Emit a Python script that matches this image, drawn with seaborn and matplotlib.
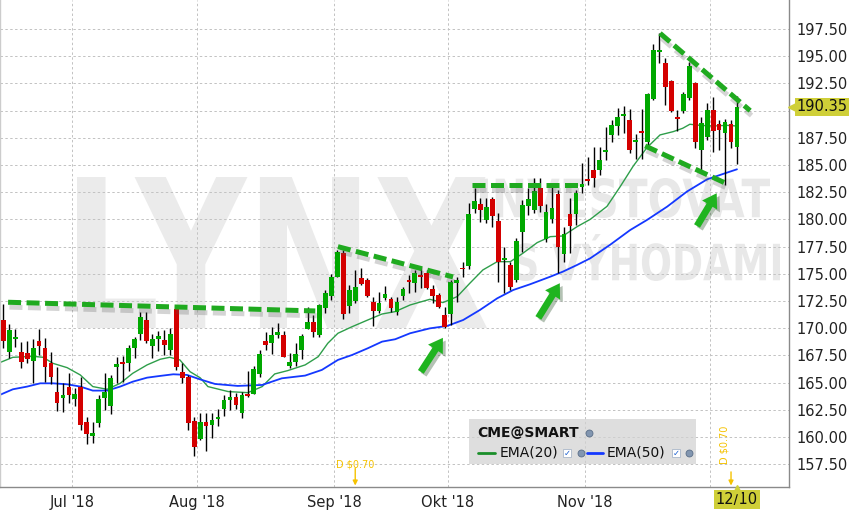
import numpy as np
import pandas as pd
import matplotlib
matplotlib.use("Agg")
import matplotlib.pyplot as plt
import seaborn as sns
import matplotlib.patheffects as pe
from matplotlib.textpath import TextPath
from matplotlib.patches import PathPatch, FancyArrowPatch, Rectangle, ArrowStyle
from matplotlib.font_manager import FontProperties
from matplotlib.transforms import Affine2D, blended_transform_factory
from matplotlib.lines import Line2D

# CME daily candles, 14 Jun 2018 .. 10 Dec 2018
opens = [170.76, 167.85, 169.02, 167.82, 167.73, 167.03, 168.86, 168.22, 166.81, 164.15,
         163.63, 164.60, 163.50, 164.60, 161.39, 160.13, 161.30, 163.60, 162.89, 166.44,
         166.90, 166.84, 168.22, 169.48, 170.79, 168.37, 169.05, 168.93, 168.01, 171.74,
         166.01, 165.55, 161.48, 159.83, 161.42, 161.11, 161.66, 162.58, 163.44, 163.69,
         162.25, 163.99, 163.99, 165.80, 168.83, 168.65, 169.35, 169.38, 166.57, 166.90,
         168.01, 169.93, 170.58, 169.35, 171.90, 173.00, 174.74, 176.95, 172.05, 172.51,
         174.62, 174.44, 172.42, 171.62, 172.82, 172.69, 171.47, 172.97, 174.41, 174.19,
         174.90, 175.05, 173.61, 173.06, 171.22, 171.34, 174.19, 175.57, 175.73, 180.98,
         181.42, 179.95, 181.88, 179.89, 176.31, 175.85, 174.47, 178.88, 181.27, 180.87,
         182.89, 178.21, 180.04, 182.37, 176.86, 180.51, 180.54, 183.02, 183.72, 184.55,
         184.58, 186.24, 187.80, 188.62, 189.54, 189.14, 187.15, 188.10, 187.15, 191.11,
         195.43, 194.35, 192.73, 189.39, 190.00, 191.17, 192.51, 186.39, 187.61, 190.06,
         188.75, 187.98, 188.78, 186.69]
highs = [172.23, 170.40, 169.91, 168.71, 168.83, 168.99, 169.91, 169.08, 167.85, 166.44,
         164.94, 165.86, 164.48, 165.55, 161.88, 161.42, 163.87, 165.86, 165.71, 167.39,
         167.45, 168.47, 169.23, 171.47, 171.47, 169.45, 169.75, 169.84, 169.99, 171.84,
         166.84, 165.71, 161.88, 162.18, 162.25, 162.18, 162.55, 163.87, 164.33, 164.02,
         164.18, 166.08, 166.53, 168.01, 169.63, 170.15, 170.46, 169.75, 167.70, 168.62,
         169.48, 171.93, 171.22, 172.23, 173.52, 174.99, 177.20, 177.20, 173.98, 175.36,
         175.51, 174.59, 172.91, 173.37, 173.89, 172.91, 172.91, 173.83, 174.90, 175.36,
         175.66, 175.36, 173.98, 173.21, 171.99, 174.44, 174.74, 176.12, 181.49, 182.86,
         181.95, 181.95, 182.10, 180.57, 177.50, 176.12, 178.27, 181.79, 182.86, 183.78,
         183.78, 181.43, 183.32, 182.71, 179.34, 181.95, 182.71, 185.16, 185.77, 186.69,
         186.69, 188.47, 189.14, 190.22, 190.43, 190.12, 187.86, 190.12, 191.66, 196.13,
         197.11, 194.81, 192.82, 190.06, 191.75, 194.51, 192.67, 189.45, 190.68, 191.29,
         189.14, 189.21, 189.14, 191.35]
lows = [168.16, 167.24, 168.31, 166.32, 166.84, 165.00, 167.55, 165.09, 164.88, 162.43,
        162.34, 163.10, 162.86, 160.65, 159.34, 159.43, 160.96, 162.49, 162.09, 164.94,
        165.09, 166.07, 167.24, 168.93, 168.62, 167.24, 167.95, 167.55, 167.55, 166.17,
        164.94, 160.65, 158.29, 159.73, 158.75, 159.95, 161.05, 161.97, 162.49, 162.58,
        161.73, 163.72, 163.93, 165.55, 168.01, 167.61, 169.08, 167.33, 166.32, 166.57,
        167.18, 169.93, 169.23, 169.23, 171.41, 172.60, 174.68, 170.82, 171.38, 172.30,
        173.98, 172.91, 170.24, 171.38, 172.60, 171.53, 171.22, 172.60, 173.27, 173.37,
        173.67, 173.58, 172.30, 171.83, 169.99, 170.30, 172.45, 174.74, 175.42, 180.57,
        179.80, 179.65, 179.34, 174.29, 173.21, 173.52, 174.29, 177.04, 180.41, 180.57,
        180.72, 177.96, 179.65, 175.11, 176.12, 176.89, 179.49, 182.47, 183.17, 182.96,
        184.09, 185.47, 187.09, 187.77, 187.92, 186.14, 185.53, 185.53, 186.69, 190.98,
        194.35, 190.52, 189.91, 188.17, 189.82, 190.98, 186.54, 184.49, 187.31, 186.24,
        186.39, 183.17, 186.54, 185.10]
closes = [168.86, 169.84, 169.20, 166.93, 167.18, 168.22, 168.41, 166.47, 165.56, 163.16,
          163.90, 163.87, 163.99, 161.14, 160.32, 160.41, 163.50, 164.15, 165.43, 166.72,
          166.72, 168.22, 169.02, 171.04, 168.83, 169.05, 169.29, 168.47, 169.48, 166.47,
          165.46, 161.27, 159.12, 161.42, 161.05, 161.60, 161.84, 163.41, 163.65, 162.98,
          163.84, 163.81, 166.26, 167.64, 168.47, 169.38, 169.66, 167.39, 166.90, 167.64,
          169.32, 170.58, 169.63, 172.11, 173.24, 174.68, 177.01, 171.31, 173.52, 173.77,
          174.10, 172.97, 171.62, 172.30, 173.15, 171.90, 172.42, 173.61, 174.26, 175.05,
          174.75, 173.67, 173.00, 171.93, 170.15, 174.23, 174.44, 175.42, 180.51, 181.70,
          180.87, 181.15, 180.32, 176.09, 176.49, 173.83, 178.05, 181.33, 181.88, 182.62,
          181.27, 180.72, 181.06, 177.50, 178.67, 179.43, 182.43, 183.29, 183.54, 183.83,
          185.47, 186.39, 188.65, 189.39, 189.66, 186.42, 187.31, 187.98, 191.54, 195.58,
          195.58, 192.21, 190.00, 189.24, 191.54, 194.11, 187.15, 188.84, 190.06, 188.17,
          188.23, 188.99, 187.15, 190.35]

# moving averages as drawn on the chart (bar index, price)
ema20_x = [-0.6, 1.6, 5.0, 6.7, 8.3, 10.7, 12.9, 15.0, 17.4, 19.6, 21.7, 24.1, 26.3, 27.9,
           29.6, 31.3, 33.0, 34.3, 37.7, 41.0, 43.4, 45.5, 47.7, 50.6, 52.8, 54.4, 56.1,
           58.5, 61.1, 63.5, 65.7, 68.2, 71.5, 73.7, 76.1, 78.2, 80.4, 82.8, 85.0, 87.1,
           89.5, 91.7, 93.8, 96.2, 98.4, 101.2, 103.4, 105.6, 107.9, 110.1, 112.3, 113.9,
           115.1, 116.8, 119.0, 121.3, 123.0]
ema20_y = [166.84, 167.33, 167.42, 167.33, 166.78, 166.38, 165.71, 164.64, 164.39, 164.94,
           165.86, 166.63, 167.15, 167.33, 167.09, 166.01, 165.45, 164.64, 164.18, 164.08,
           164.64, 165.80, 166.11, 166.63, 167.39, 168.62, 169.54, 170.15, 170.76, 171.31,
           171.53, 172.14, 172.66, 172.36, 172.91, 174.13, 175.36, 176.12, 176.12, 176.89,
           177.87, 178.42, 178.48, 179.34, 180.01, 181.20, 183.00, 184.90, 186.60, 187.77,
           188.07, 188.38, 188.75, 188.65, 188.59, 188.65, 188.59]
ema50_x = [-0.6, 1.6, 4.0, 6.2, 8.3, 10.7, 12.9, 15.0, 17.4, 19.6, 21.7, 24.1, 26.3, 28.5,
           30.8, 33.0, 35.5, 39.3, 43.4, 46.7, 50.6, 53.4, 56.1, 58.5, 61.1, 63.5, 65.7,
           68.2, 71.5, 74.4, 77.1, 79.9, 82.8, 85.5, 88.3, 91.7, 93.8, 96.2, 98.4, 101.7,
           105.1, 107.9, 111.3, 114.6, 118.0, 121.3, 123.0]
ema50_y = [163.87, 164.39, 164.64, 164.94, 164.94, 164.85, 164.64, 164.27, 164.27, 164.64,
           165.09, 165.46, 165.62, 165.77, 165.71, 165.30, 164.88, 164.70, 164.79, 165.40,
           165.65, 166.17, 167.09, 167.55, 168.16, 168.77, 168.99, 169.54, 169.99, 170.21,
           170.76, 171.68, 172.75, 173.52, 174.04, 174.74, 175.20, 175.82, 176.43, 177.66,
           179.03, 179.95, 181.18, 182.56, 183.69, 184.30, 184.61]

# hand drawn annotations (bar index, price)
trend_lines = [((0.8, 172.39), (52.3, 171.59)),
               ((56.1, 177.50), (75.4, 174.72)),
               ((78.5, 183.13), (97.2, 183.13)),
               ((110.1, 197.11), (125.2, 190.00)),
               ((107.6, 186.76), (121.1, 183.33))]
arrows = [((70.0, 165.99), (73.7, 169.12)),
          ((89.7, 170.95), (93.3, 174.14)),
          ((116.3, 179.40), (119.6, 182.41))]

month_ticks = [11.5, 32.5, 55.5, 74.5, 97.5, 118.5]
month_labels = ["Jul '18", "Aug '18", "Sep '18", "Okt '18", "Nov '18", ""]
price_ticks = [157.5, 160.0, 162.5, 165.0, 167.5, 170.0, 172.5, 175.0, 177.5, 180.0,
               182.5, 185.0, 187.5, 190.0, 192.5, 195.0, 197.5]
dividend_bars = [59, 122]
last_price = 190.35

sns.set_theme(style="white")
plt.rcParams["font.family"] = ["DejaVu Sans"]

W, H = 856, 513
fig = plt.figure(figsize=(W / 100, H / 100), dpi=100)
ax = fig.add_axes([0, 26 / H, 789 / W, 487 / H])


def P(x, y):
    return (x / W, 1 - y / H)


# watermark (stretched text paths)
def watermark(text, x0, y0, x1, y1, color):
    tp = TextPath((0, 0), text, size=100, prop=FontProperties(family="DejaVu Sans", weight="bold"))
    bb = tp.get_extents()
    fx0, fy1 = P(x0, y0)
    fx1, fy0 = P(x1, y1)
    tr = (Affine2D().translate(-bb.x0, -bb.y0)
          .scale((fx1 - fx0) / bb.width, (fy1 - fy0) / bb.height)
          .translate(fx0, fy0))
    patch = PathPatch(tr.transform_path(tp), transform=fig.transFigure, color=color,
                      lw=0, zorder=0.5)
    ax.add_patch(patch)


watermark("LYNX", 77, 177, 487, 328, "#ebebeb")
watermark("INVESTOVAT", 480, 178, 770, 218, "#e8e8e8")
watermark("S VÝHODAMI", 515, 234, 780, 281, "#e8e8e8")

# candles
df = pd.DataFrame({"open": opens, "high": highs, "low": lows, "close": closes})
df["i"] = np.arange(len(df))
up = df["close"] >= df["open"]
colors = np.where(up, "#00a800", "#d40000")
ax.vlines(df["i"], df["low"], df["high"], color="black", lw=1.0, zorder=3)
body = (df["close"] - df["open"]).abs().clip(lower=0.12)
ax.bar(df["i"], body, bottom=df[["open", "close"]].min(axis=1), width=0.8,
       color=colors, linewidth=0, zorder=4)

# EMAs
sns.lineplot(x=ema20_x, y=ema20_y, ax=ax, color="#2e9e4a", lw=1.0, sort=False,
             estimator=None, zorder=2)
sns.lineplot(x=ema50_x, y=ema50_y, ax=ax, color="#1438ff", lw=1.3, sort=False,
             estimator=None, zorder=2)

# trend lines and arrows
shadow = [pe.SimpleLineShadow(offset=(1, -3.5), shadow_color="#555555", alpha=0.25),
          pe.Normal()]
for (x0, y0), (x1, y1) in trend_lines:
    ax.plot([x0, x1], [y0, y1], color="#1faa1f", lw=3.6, linestyle=(0, (2.6, 1.1)),
            solid_capstyle="butt", dash_capstyle="butt", zorder=6, path_effects=shadow)
for tail, tip in arrows:
    a = FancyArrowPatch(tail, tip, arrowstyle=ArrowStyle.Simple(head_length=0.9, head_width=1.15,
                                                                 tail_width=0.45),
                        mutation_scale=11, color="#1fb41f", lw=0, shrinkA=0, shrinkB=0,
                        zorder=6,
                        path_effects=[pe.SimplePatchShadow(offset=(2, -2), alpha=0.3),
                                      pe.Normal()])
    ax.add_patch(a)

# axes styling
ax.set_xlim(-0.553, 131.72)
ax.set_ylim(155.41, 200.17)
ax.set_xticks(month_ticks)
ax.set_xticklabels(month_labels)
ax.set_yticks(price_ticks)
ax.set_yticklabels(["" if abs(t - 190.0) < 1e-6 else f"{t:.2f}" for t in price_ticks])
ax.yaxis.tick_right()
ax.tick_params(axis="y", length=0, pad=5, labelsize=10.5, labelcolor="#222222")
ax.tick_params(axis="x", length=0, pad=5.5, labelsize=10.5, labelcolor="#222222")
ax.grid(True, color="#c2c2c2", linestyle=(0, (2.5, 2.5)), lw=0.7)
ax.set_axisbelow(True)
ax.set_facecolor("white")
ax.spines["top"].set_visible(False)
ax.spines["left"].set_color("#cccccc")
ax.spines["right"].set_color("#8a8a8a")
ax.spines["bottom"].set_color("#8a8a8a")
for s in ["left", "right", "bottom"]:
    ax.spines[s].set_linewidth(1.0)
ax.set_xlabel("")
ax.set_ylabel("")

# last price tag
yb = blended_transform_factory(ax.transAxes, ax.transData)
ax.text(1.0095, last_price, f"{last_price:.2f}", transform=yb, ha="left", va="center",
        fontsize=10.5, color="#111111", clip_on=False, zorder=7,
        bbox=dict(boxstyle="square,pad=0.12", facecolor="#cfcf38", edgecolor="none"))
ax.plot([1.0035], [last_price], marker="<", ms=6, color="#cfcf38", transform=yb,
        clip_on=False, zorder=7)

# current date tag
xb = blended_transform_factory(ax.transData, ax.transAxes)
ax.text(len(closes) - 1, -0.026, "12/10", transform=xb, ha="center", va="center",
        fontsize=10.5, color="#111111", clip_on=False, zorder=7,
        bbox=dict(boxstyle="square,pad=0.12", facecolor="#cfcf38", edgecolor="none"))
ax.plot([len(closes) - 1], [-0.005], marker="^", ms=6, color="#cfcf38", transform=xb,
        clip_on=False, zorder=7)

# dividend markers
gold = "#f5c200"
ax.text(dividend_bars[0], 0.047, "D $0.70", transform=xb, ha="center", va="center",
        fontsize=7, color=gold)
ax.text(dividend_bars[1] - 1.1, 0.086, "D $0.70", transform=xb, ha="center", va="center",
        fontsize=7, color=gold, rotation=90)
for k, ytop in [(dividend_bars[0], 0.038), (dividend_bars[1], 0.031)]:
    ax.annotate("", xy=(k, 0.003), xytext=(k, ytop), xycoords=xb, textcoords=xb,
                arrowprops=dict(arrowstyle="-|>", color=gold, lw=1.0, mutation_scale=7,
                                shrinkA=0, shrinkB=0))

# legend panel
fig.add_artist(Rectangle(P(469, 464), 227 / W, 45 / H, transform=fig.transFigure,
                         facecolor="#d2d2d2", alpha=0.72, edgecolor="none", zorder=5))
fig.text(*P(477, 433), "CME@SMART", fontsize=10, fontweight="bold", color="#111111",
         ha="left", va="center", zorder=6)


def globe(x, y):
    fig.add_artist(Line2D([x / W], [1 - y / H], marker="o", ms=5, color="#8296b0",
                          markeredgecolor="#5a6e88", markeredgewidth=0.6,
                          transform=fig.transFigure, zorder=6))


def checkbox(x, y):
    fig.add_artist(Line2D([x / W], [1 - y / H], marker="s", ms=6, markerfacecolor="white",
                          markeredgecolor="#a9b7c8", markeredgewidth=0.6,
                          transform=fig.transFigure, zorder=6))
    fig.text(*P(x, y + 0.5), "✓", fontsize=6, color="#1a5fd0", ha="center", va="center",
             fontweight="bold", zorder=7)


globe(589, 433)
fig.add_artist(Line2D([478 / W, 495 / W], [1 - 453 / H] * 2, color="#1a8f2a", lw=2,
                      transform=fig.transFigure, zorder=6))
fig.text(*P(500, 453), "EMA(20)", fontsize=10, color="#111111", ha="left", va="center", zorder=6)
checkbox(567, 453)
globe(581, 453)
fig.add_artist(Line2D([587 / W, 603 / W], [1 - 453 / H] * 2, color="#1438ff", lw=2,
                      transform=fig.transFigure, zorder=6))
fig.text(*P(607, 453), "EMA(50)", fontsize=10, color="#111111", ha="left", va="center", zorder=6)
checkbox(676, 453)
globe(689, 453)

fig.savefig("out.png", dpi=100)
